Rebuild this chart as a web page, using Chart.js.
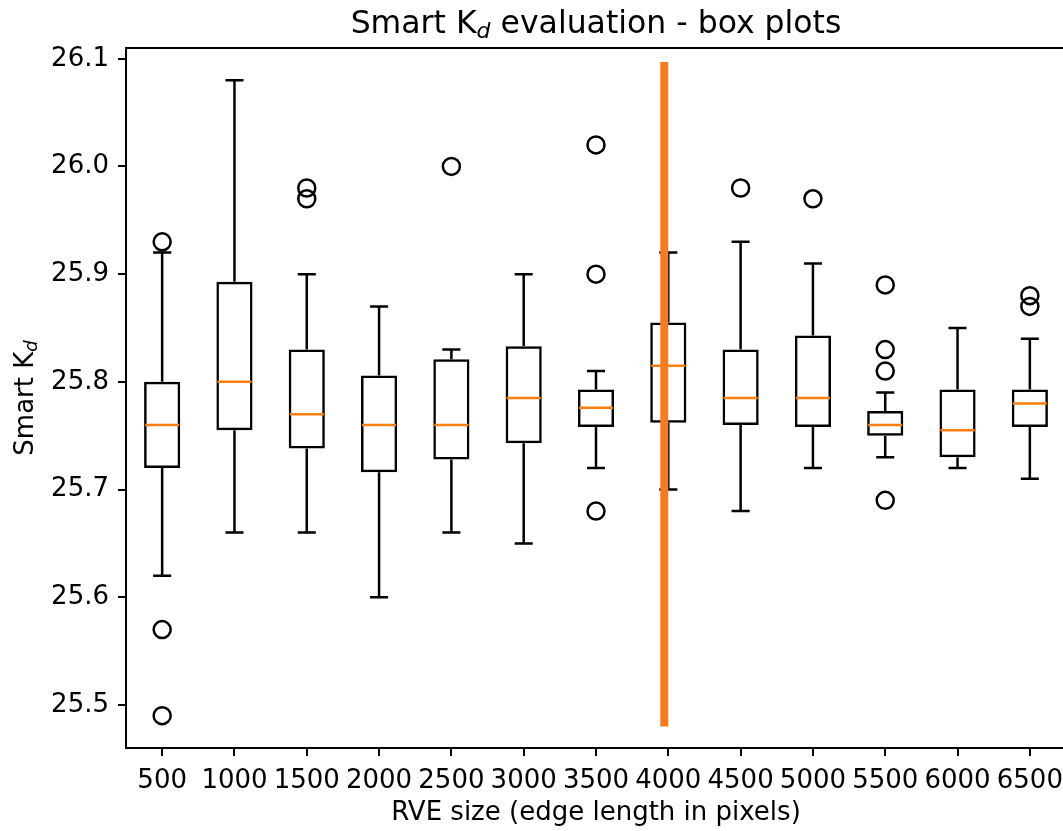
<!DOCTYPE html>
<html>
<head>
<meta charset="utf-8">
<title>Smart Kd evaluation - box plots</title>
<script src="https://cdn.jsdelivr.net/npm/chart.js@4.4.1/dist/chart.umd.min.js"></script>
<style>
  html, body { margin: 0; padding: 0; background: #fff; overflow: hidden; width: 1063px; height: 831px; }
  /* the plot frame runs a few pixels past the right edge of the picture */
  #wrap { width: 1063px; height: 831px; overflow: hidden; position: relative; }
  #chartKd { position: absolute; left: 0; top: 0; }
</style>
</head>
<body>
<div id="wrap"><canvas id="chartKd" width="1077" height="831"></canvas></div>
<script>
// RVE sizes (edge length in pixels)
const sizes = ['500', '1000', '1500', '2000', '2500', '3000', '3500', '4000', '4500', '5000', '5500', '6000', '6500'];

// box statistics
const whiskerLow  = [25.62, 25.66, 25.66, 25.60, 25.66, 25.65, 25.72, 25.70, 25.68, 25.72, 25.73, 25.72, 25.71];
const q1          = [25.72, 25.755, 25.738, 25.716, 25.728, 25.743, 25.758, 25.762, 25.76, 25.758, 25.75, 25.73, 25.758];
const medians     = [25.76, 25.80, 25.77, 25.76, 25.76, 25.785, 25.776, 25.815, 25.785, 25.785, 25.76, 25.755, 25.78];
const q3          = [25.80, 25.893, 25.83, 25.806, 25.821, 25.833, 25.793, 25.855, 25.83, 25.843, 25.773, 25.793, 25.793];
const whiskerHigh = [25.92, 26.08, 25.90, 25.87, 25.83, 25.90, 25.81, 25.92, 25.93, 25.91, 25.79, 25.85, 25.84];
const outliers = [
    [25.93, 25.57, 25.49],
    [],
    [25.98, 25.97],
    [],
    [26.00],
    [],
    [26.02, 25.90, 25.68],
    [],
    [25.98],
    [25.97],
    [25.89, 25.83, 25.81, 25.69],
    [],
    [25.88, 25.87]
];

const yTicks = [25.5, 25.6, 25.7, 25.8, 25.9, 26.0, 26.1];

// the orange vertical marker (RVE size where it sits, and its value span)
const markerSize = 3972;
const markerSpan = [25.48, 26.097];

const FONT = 'DejaVu Sans';
const MEDIAN_COLOR = '#ff7f0e';
const MARKER_COLOR = 'rgb(243, 124, 33)';

const outlierPoints = [];
outliers.forEach(function(list, i) {
    list.forEach(function(v) { outlierPoints.push({ x: sizes[i], y: v }); });
});

// whiskers, caps and medians are drawn from the scales after the boxes
const boxExtras = {
    id: 'boxExtras',
    afterDatasetsDraw(chart) {
        const ctx = chart.ctx;
        const xs = chart.scales.x, ys = chart.scales.y;
        const meta = chart.getDatasetMeta(0);
        ctx.save();
        ctx.lineCap = 'butt';
        meta.data.forEach(function(bar, i) {
            const cx = xs.getPixelForValue(i);
            const half = bar.width / 2;
            const cap = half / 2;
            ctx.strokeStyle = '#000';
            ctx.lineWidth = 2.5;
            ctx.beginPath();
            ctx.moveTo(cx, ys.getPixelForValue(q3[i]));
            ctx.lineTo(cx, ys.getPixelForValue(whiskerHigh[i]));
            ctx.moveTo(cx, ys.getPixelForValue(q1[i]));
            ctx.lineTo(cx, ys.getPixelForValue(whiskerLow[i]));
            ctx.moveTo(cx - cap, ys.getPixelForValue(whiskerHigh[i]));
            ctx.lineTo(cx + cap, ys.getPixelForValue(whiskerHigh[i]));
            ctx.moveTo(cx - cap, ys.getPixelForValue(whiskerLow[i]));
            ctx.lineTo(cx + cap, ys.getPixelForValue(whiskerLow[i]));
            ctx.stroke();
            ctx.strokeStyle = MEDIAN_COLOR;
            ctx.beginPath();
            ctx.moveTo(cx - half + 1, ys.getPixelForValue(medians[i]));
            ctx.lineTo(cx + half - 1, ys.getPixelForValue(medians[i]));
            ctx.stroke();
        });
        ctx.restore();
    },
    afterDraw(chart) {
        const ctx = chart.ctx;
        const area = chart.chartArea;
        const xs = chart.scales.x, ys = chart.scales.y;
        ctx.save();

        // frame
        ctx.strokeStyle = '#000';
        ctx.lineWidth = 2;
        ctx.strokeRect(area.left, area.top, area.right - area.left, area.bottom - area.top);

        // vertical marker
        const mx = xs.getPixelForValue(markerSize / 500 - 1);
        ctx.strokeStyle = MARKER_COLOR;
        ctx.lineWidth = 8;
        ctx.beginPath();
        ctx.moveTo(mx, ys.getPixelForValue(markerSpan[1]));
        ctx.lineTo(mx, ys.getPixelForValue(markerSpan[0]));
        ctx.stroke();

        // title with subscript
        ctx.fillStyle = '#000';
        ctx.textBaseline = 'alphabetic';
        ctx.textAlign = 'left';
        const big = '31.5px "' + FONT + '"';
        const sub = 'italic 22px "' + FONT + '"';
        const parts = ['Smart K', 'd', ' evaluation - box plots'];
        ctx.font = big; const w0 = ctx.measureText(parts[0]).width;
        ctx.font = sub; const w1 = ctx.measureText(parts[1]).width;
        ctx.font = big; const w2 = ctx.measureText(parts[2]).width;
        let tx = (area.left + area.right) / 2 - (w0 + w1 + w2) / 2;
        const ty = 33;
        ctx.font = big; ctx.fillText(parts[0], tx, ty); tx += w0;
        ctx.font = sub; ctx.fillText(parts[1], tx, ty + 5); tx += w1;
        ctx.font = big; ctx.fillText(parts[2], tx, ty);

        // y axis label with subscript
        const lbig = '26px "' + FONT + '"';
        const lsub = 'italic 18px "' + FONT + '"';
        ctx.font = lbig; const l0 = ctx.measureText('Smart K').width;
        ctx.font = lsub; const l1 = ctx.measureText('d').width;
        ctx.translate(33, (area.top + area.bottom) / 2);
        ctx.rotate(-Math.PI / 2);
        let lx = -(l0 + l1) / 2;
        ctx.font = lbig; ctx.fillText('Smart K', lx, 0); lx += l0;
        ctx.font = lsub; ctx.fillText('d', lx, 4);
        ctx.restore();
    }
};

function initChart() {
    const ctxKd = document.getElementById('chartKd');
    new Chart(ctxKd, {
        type: 'bar',
        data: {
            labels: sizes,
            datasets: [{
                label: 'IQR',
                data: q1.map(function(v, i) { return [v, q3[i]]; }),
                backgroundColor: 'rgba(0, 0, 0, 0)',
                borderColor: '#000',
                borderWidth: 2.5,
                borderSkipped: false,
                barPercentage: 0.5,
                categoryPercentage: 1.0,
                order: 2
            }, {
                type: 'line',
                label: 'Outliers',
                data: outlierPoints,
                showLine: false,
                pointStyle: 'circle',
                pointRadius: 8.5,
                pointBorderWidth: 2.5,
                pointBorderColor: '#000',
                pointBackgroundColor: 'rgba(0, 0, 0, 0)',
                order: 1
            }]
        },
        options: {
            responsive: false,
            animation: false,
            devicePixelRatio: 1,
            layout: { padding: { top: 48, left: 0, right: 0, bottom: 0 } },
            plugins: {
                legend: { display: false },
                title: { display: false },
                tooltip: { enabled: false }
            },
            scales: {
                x: {
                    type: 'category',
                    offset: true,
                    grid: { display: true, offset: false, drawOnChartArea: false, drawTicks: true, tickLength: 8, color: '#000', lineWidth: 2 },
                    border: { display: true, color: '#000', width: 2 },
                    ticks: { color: '#000', font: { family: FONT, size: 26 }, padding: 10, maxRotation: 0, autoSkip: false },
                    title: {
                        display: true,
                        text: 'RVE size (edge length in pixels)',
                        color: '#000',
                        font: { family: FONT, size: 26 },
                        padding: { top: 0, bottom: 2 }
                    },
                    afterFit: function(s) { s.height = 83; }
                },
                y: {
                    min: 25.46,
                    max: 26.11,
                    afterBuildTicks: function(s) { s.ticks = yTicks.map(function(v) { return { value: v }; }); },
                    grid: { display: true, drawOnChartArea: false, drawTicks: true, tickLength: 8, color: '#000', lineWidth: 2 },
                    border: { display: true, color: '#000', width: 2 },
                    ticks: {
                        color: '#000',
                        font: { family: FONT, size: 26 },
                        padding: 9,
                        callback: function(v) { return Number(v).toFixed(1); }
                    },
                    afterFit: function(s) { s.width = 126; }
                }
            }
        },
        plugins: [boxExtras]
    });
}

document.addEventListener('DOMContentLoaded', function() {
    initChart();
});
</script>
</body>
</html>
